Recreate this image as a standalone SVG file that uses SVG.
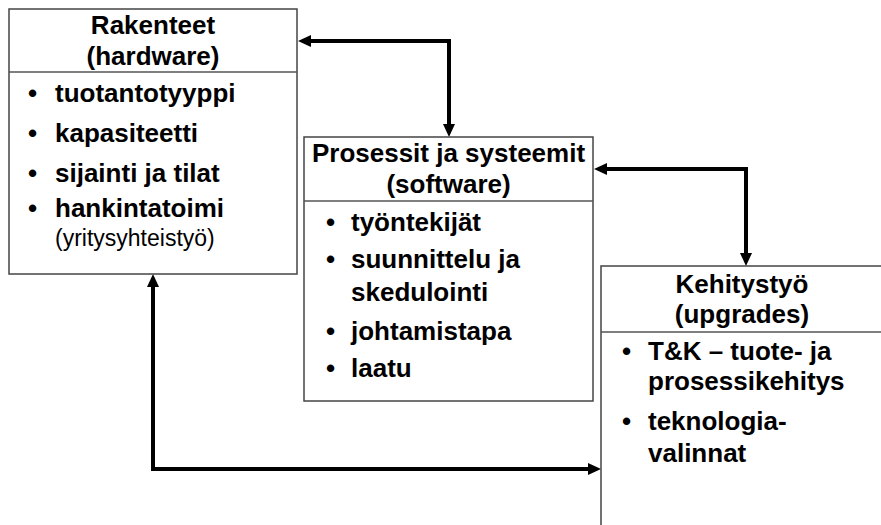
<svg xmlns="http://www.w3.org/2000/svg" width="881" height="525" viewBox="0 0 881 525">
  <style>
    .box { fill: #ffffff; stroke: #444444; stroke-width: 1.5; }
    .div { stroke: #555555; stroke-width: 1.5; }
    .t { font-family: "Liberation Sans", Arial, sans-serif; font-weight: bold; font-size: 26px; fill: #000000; }
    .title { text-anchor: middle; }
    .sub { font-family: "Liberation Sans", Arial, sans-serif; font-size: 23px; fill: #000000; }
    .conn { fill: none; stroke: #000000; stroke-width: 4; stroke-linejoin: miter; }
  </style>
  <defs>
    <marker id="ah" markerUnits="userSpaceOnUse" markerWidth="14" markerHeight="14" viewBox="0 -7 14 14" refX="0" refY="0" orient="auto-start-reverse">
      <path d="M0,-6 L13,0 L0,6 z" fill="#000000"/>
    </marker>
  </defs>

  <rect width="881" height="525" fill="#ffffff"/>

  <!-- connectors -->
  <g id="connectors">
    <path class="conn" d="M311,41 H449 V124" marker-start="url(#ah)" marker-end="url(#ah)"/>
    <path class="conn" d="M607,169 H746 V253" marker-start="url(#ah)" marker-end="url(#ah)"/>
    <path class="conn" d="M153,287 V469 H588" marker-start="url(#ah)" marker-end="url(#ah)"/>
  </g>

  <!-- hardware -->
  <g id="rakenteet">
    <rect class="box" x="9" y="9" width="288" height="265"/>
    <line class="div" x1="9" y1="72" x2="297" y2="72"/>
    <text class="t title" x="153" y="34">Rakenteet</text>
    <text class="t title" x="153" y="65">(hardware)</text>
    <text class="t" x="28" y="102">•</text><text class="t" x="55" y="102">tuotantotyyppi</text>
    <text class="t" x="28" y="142">•</text><text class="t" x="55" y="142">kapasiteetti</text>
    <text class="t" x="28" y="182">•</text><text class="t" x="55" y="182">sijainti ja tilat</text>
    <text class="t" x="28" y="217">•</text><text class="t" x="55" y="217">hankintatoimi</text>
    <text class="sub" x="55" y="246">(yritysyhteistyö)</text>
  </g>

  <!-- software -->
  <g id="prosessit">
    <rect class="box" x="304" y="137" width="289" height="264"/>
    <line class="div" x1="304" y1="201" x2="593" y2="201"/>
    <text class="t title" x="448.5" y="162">Prosessit ja systeemit</text>
    <text class="t title" x="448.5" y="193">(software)</text>
    <text class="t" x="326" y="231">•</text><text class="t" x="351" y="231">työntekijät</text>
    <text class="t" x="326" y="268">•</text><text class="t" x="351" y="268">suunnittelu ja</text>
    <text class="t" x="351" y="301">skedulointi</text>
    <text class="t" x="326" y="340">•</text><text class="t" x="351" y="340">johtamistapa</text>
    <text class="t" x="326" y="377">•</text><text class="t" x="351" y="377">laatu</text>
  </g>

  <!-- upgrades -->
  <g id="kehitystyo">
    <rect class="box" x="601" y="266" width="300" height="300"/>
    <line class="div" x1="601" y1="332" x2="881" y2="332"/>
    <text class="t title" x="742" y="293">Kehitystyö</text>
    <text class="t title" x="742" y="323">(upgrades)</text>
    <text class="t" x="622" y="360">•</text><text class="t" x="648" y="360">T&amp;K – tuote- ja</text>
    <text class="t" x="648" y="390">prosessikehitys</text>
    <text class="t" x="622" y="430">•</text><text class="t" x="648" y="430">teknologia-</text>
    <text class="t" x="648" y="462">valinnat</text>
  </g>
</svg>
